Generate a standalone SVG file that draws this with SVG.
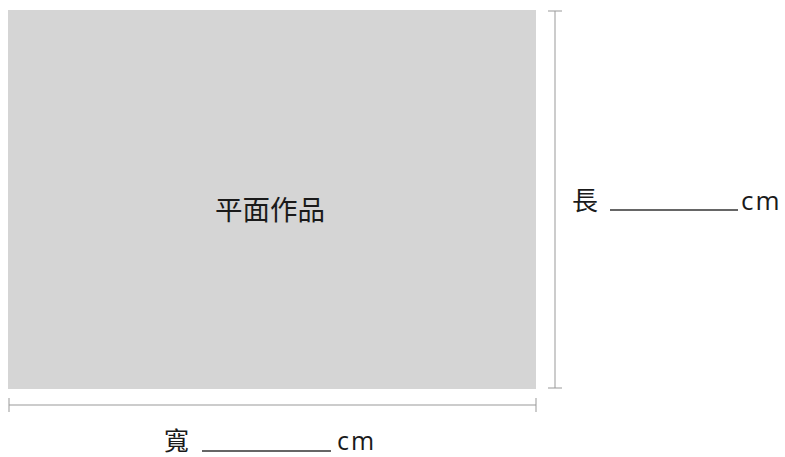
<svg xmlns="http://www.w3.org/2000/svg" width="785" height="457" viewBox="0 0 785 457">
<style>
.t{font-family:"Noto Sans CJK TC","Noto Sans CJK SC",sans-serif;fill:#1a1a1a;}
.u{font-family:"Open Sans","Noto Sans",sans-serif;fill:#1a1a1a;letter-spacing:2px;}
.dim{stroke:#999;stroke-width:1;fill:none;}
.ul{stroke:#333;stroke-width:1.4;}
</style>
<rect width="785" height="457" fill="#fff"/>
<g id="artwork">
<rect x="8" y="10" width="528" height="379" fill="#d5d5d5"/>
<text class="t" x="270" y="220" font-size="27.5" text-anchor="middle">平面作品</text>
</g>
<g id="connectors">
<line class="dim" x1="555" y1="11" x2="555" y2="388"/>
<line class="dim" x1="548" y1="11" x2="562" y2="11"/>
<line class="dim" x1="548" y1="388" x2="562" y2="388"/>
<line class="dim" x1="9" y1="405" x2="536" y2="405"/>
<line class="dim" x1="9" y1="398" x2="9" y2="412"/>
<line class="dim" x1="536" y1="398" x2="536" y2="412"/>
</g>
<g id="length">
<text class="t" x="572" y="210" font-size="26">長</text>
<line class="ul" x1="610" y1="210" x2="738" y2="210"/>
<text class="u" x="741" y="210" font-size="26">cm</text>
</g>
<g id="width">
<text class="t" x="164" y="450" font-size="25">寬</text>
<line class="ul" x1="202" y1="451" x2="331" y2="451"/>
<text class="u" x="337" y="450" font-size="25">cm</text>
</g>
</svg>
